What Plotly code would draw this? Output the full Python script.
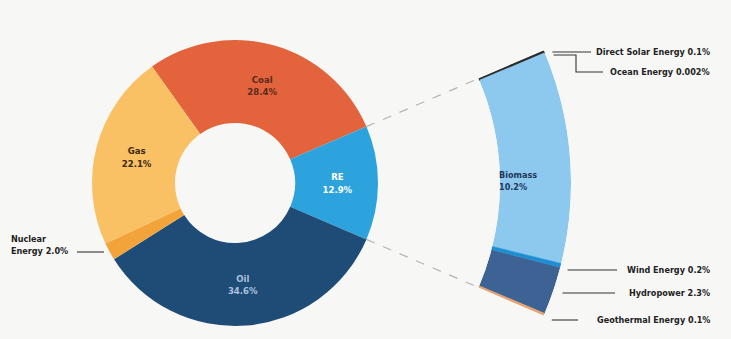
import numpy as np
import plotly.graph_objects as go

W, H = 731, 339

# ---- data ----
main_labels = ["Coal", "RE", "Oil", "Nuclear Energy", "Gas"]
main_values = [28.4, 12.9, 34.6, 2.0, 22.1]
main_colors = ["#E2633C", "#2DA3DD", "#1F4B77", "#F2A43A", "#F9C064"]
main_text_colors = ["#5a2a1c", "#ffffff", "#a9c3de", "#000000", "#3a2a10"]

re_labels = ["Direct Solar Energy", "Ocean Energy", "Biomass", "Wind Energy", "Hydropower", "Geothermal Energy"]
re_values = [0.1, 0.002, 10.2, 0.2, 2.3, 0.1]
re_colors = ["#2E2E2E", "#2E2E2E", "#8DC8EE", "#1C8FD3", "#3D6394", "#E7A26E"]
re_label_text = ["Direct Solar Energy 0.1%", "Ocean Energy 0.002%", "Biomass<br>10.2%",
                 "Wind Energy 0.2%", "Hydropower 2.3%", "Geothermal Energy 0.1%"]

# ---- geometry (layout constants) ----
CX, CY = 235, 183
R_PIE = 143
HOLE = 0.42
R_IN, R_OUT = 265, 336
FONT = "DejaVu Sans Condensed, Liberation Sans Narrow, sans-serif"

deg_per = 360.0 / sum(main_values)
re_share = main_values[main_labels.index("RE")]
rotation = 90 - (re_share / 2 + main_values[0]) * deg_per

fig = go.Figure()

# main donut
templates = ["%{label}<br>%{value:.1f}%" if l != "Nuclear Energy" else "" for l in main_labels]
fig.add_trace(go.Pie(
    labels=main_labels, values=main_values, sort=False, direction="clockwise",
    rotation=rotation, hole=HOLE,
    marker=dict(colors=main_colors, line=dict(width=0)),
    texttemplate=templates, textposition="inside", insidetextorientation="horizontal",
    textfont=dict(family=FONT, size=9.5, color=main_text_colors, weight="bold"),
    domain=dict(x=[(CX - R_PIE) / W, (CX + R_PIE) / W],
                y=[(H - CY - R_PIE) / H, (H - CY + R_PIE) / H]),
    showlegend=False, hoverinfo="label+value",
))

# RE breakdown arc (barpolar in a sector)
sub_total = sum(re_values)
half = sub_total * deg_per / 2
widths = np.array(re_values) * deg_per
cum = np.concatenate([[0], np.cumsum(widths)[:-1]])
thetas = half - cum - widths / 2
fig.add_trace(go.Barpolar(
    r=[1] * len(re_values), theta=thetas, width=widths,
    marker=dict(color=re_colors, line=dict(color=re_colors, width=[1.6, 1.6, 0, 0.6, 0, 0.8])),
    text=re_labels, hoverinfo="text", subplot="polar", showlegend=False,
))
s = np.sin(np.deg2rad(half))
fig.update_layout(polar=dict(
    sector=[-half, half], hole=R_IN / R_OUT, bgcolor="rgba(0,0,0,0)",
    domain=dict(x=[CX / W, (CX + R_OUT) / W],
                y=[(H - CY - R_OUT * s) / H, (H - CY + R_OUT * s) / H]),
    radialaxis=dict(range=[0, 1], visible=False, showgrid=False, showline=False),
    angularaxis=dict(visible=False, showgrid=False, showline=False, rotation=0,
                     direction="counterclockwise"),
))

# dashed connectors along RE wedge edges
for a in (half, -half):
    rad = np.deg2rad(a)
    fig.add_trace(go.Scatter(
        x=[CX + R_PIE * np.cos(rad), CX + R_IN * np.cos(rad)],
        y=[CY - R_PIE * np.sin(rad), CY - R_IN * np.sin(rad)],
        mode="lines", line=dict(color="#b5b5b5", width=1.2, dash="dash"),
        hoverinfo="skip", showlegend=False,
    ))

def edge_x(y):
    return CX + np.sqrt(R_OUT ** 2 - (y - CY) ** 2)

LINE = dict(color="#333333", width=1.1)
leaders = [
    ([edge_x(52) + 8, 591], [52, 52]),
    ([edge_x(55) + 8, 576, 576, 603], [55, 55, 72, 72]),
    ([edge_x(270) + 8, 617], [270, 270]),
    ([edge_x(293) + 10, 615], [293, 293]),
    ([edge_x(320) + 10, 578], [320, 320]),
    ([77, 104], [252, 252]),
]
for xs, ys in leaders:
    fig.add_trace(go.Scatter(x=xs, y=ys, mode="lines", line=LINE,
                             hoverinfo="skip", showlegend=False))

label_y = [52, 72, None, 270, 293, 320]
for txt, yy in zip(re_label_text, label_y):
    if yy is None:
        continue
    fig.add_annotation(x=712, y=yy, text=txt, xanchor="right", yanchor="middle",
                       showarrow=False, xref="x", yref="y",
                       font=dict(family=FONT, size=9, color="#222222", weight="bold"))

fig.add_annotation(x=518, y=181, text=re_label_text[2], xanchor="center", yanchor="middle",
                   showarrow=False, xref="x", yref="y", align="left",
                   font=dict(family=FONT, size=9, color="#1d3a5a", weight="bold"))
fig.add_annotation(x=9, y=245, text="Nuclear<br>Energy 2.0%", xanchor="left", yanchor="middle",
                   showarrow=False, xref="x", yref="y", align="left",
                   font=dict(family=FONT, size=9, color="#222222", weight="bold"))

fig.update_layout(
    width=W, height=H, margin=dict(l=0, r=0, t=0, b=0),
    paper_bgcolor="#f7f7f5", plot_bgcolor="rgba(0,0,0,0)",
    xaxis=dict(range=[0, W], visible=False, fixedrange=True, domain=[0, 1]),
    yaxis=dict(range=[H, 0], visible=False, fixedrange=True, domain=[0, 1]),
    showlegend=False,
)

fig.write_html("out.html")
